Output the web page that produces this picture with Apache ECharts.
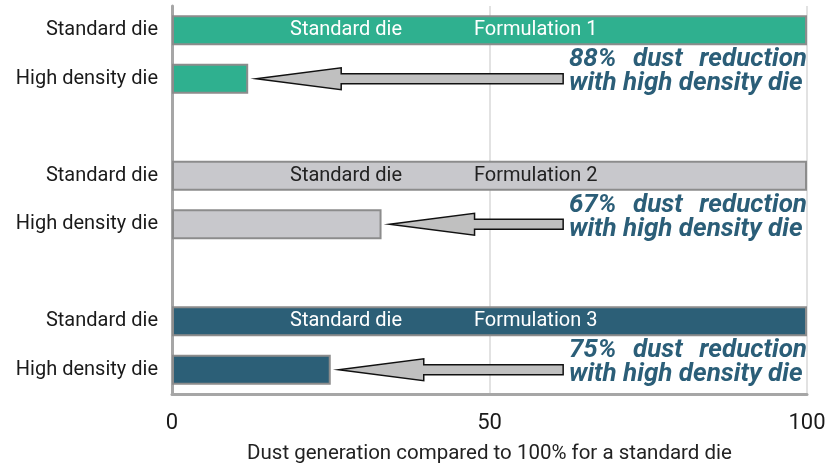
<!DOCTYPE html>
<html><head><meta charset="utf-8">
<script src="https://cdn.jsdelivr.net/npm/echarts@6/dist/echarts.min.js"></script>
<style>html,body{margin:0;padding:0;background:#fff}#c{width:840px;height:466px}</style>
</head><body><div id="c"></div>
<script>
// ---- data ----
const categories = ['Standard die','High density die','','Standard die','High density die','','Standard die','High density die'];
const formulations = ['Formulation 1','Formulation 2','Formulation 3'];
const standardLabel = 'Standard die';
const standardValues = [100, 100, 100];
const highDensityValues = [12, 33, 25];
const reductionLabels = ['88%', '67%', '75%'];
const xTicks = [0, 50, 100];
const axisTitle = 'Dust generation compared to 100% for a standard die';

// ---- styles ----
const fills = ['#2fb08f', '#c8c8cc', '#2c5f77'];
const labelColors = ['#ffffff', '#222222', '#ffffff'];
const FONT = 'Roboto';
const annColor = '#2b5e78';
const annSize = 26;

const barData = [];
for (let i = 0; i < formulations.length; i++) {
  barData.push({
    value: standardValues[i],
    itemStyle: { color: fills[i] },
    label: {
      show: true, position: 'insideLeft', offset: [113, 0],
      formatter: '{a|' + standardLabel + '}{b|' + formulations[i] + '}',
      rich: {
        a: { width: 184, fontSize: 20, fontFamily: FONT, color: labelColors[i] },
        b: { fontSize: 20, fontFamily: FONT, color: labelColors[i] }
      }
    }
  });
  barData.push({ value: highDensityValues[i], itemStyle: { color: fills[i] } });
  if (i < formulations.length - 1) barData.push('-');
}

const arrowData = highDensityValues.map((v, i) => [v, 3 * i + 1, i]);

const ctx = document.createElement('canvas').getContext('2d');
function measure(t) {
  ctx.font = 'italic bold ' + annSize + 'px ' + FONT;
  return ctx.measureText(t).width;
}

function renderArrow(params, api) {
  const v = api.value(0), row = api.value(1), k = api.value(2);
  const p = api.coord([v, row]);
  const xb = p[0], yc = p[1];
  const xEnd = api.coord([61.6, row])[0];
  const xTxt = api.coord([62.5, row])[0];
  const xR = api.coord([100, row])[0];
  const tip = xb + 8, hb = tip + 85;
  const hh = 11, sh = 5;
  const children = [{
    type: 'polygon',
    shape: { points: [[tip, yc], [hb, yc - hh], [hb, yc - sh], [xEnd, yc - sh], [xEnd, yc + sh], [hb, yc + sh], [hb, yc + hh]] },
    style: { fill: '#c0c0c0', stroke: '#111', lineWidth: 1.5 }
  }];
  const words = [reductionLabels[k], 'dust', 'reduction'];
  const widths = words.map(measure);
  const gap = (xR - xTxt - widths.reduce((a, b) => a + b, 0)) / (words.length - 1);
  let x = xTxt;
  const y1 = yc - 19, y2 = yc + 5;
  const font = { fontStyle: 'italic', fontWeight: 'bold', fontSize: annSize, fontFamily: FONT };
  words.forEach((w, j) => {
    children.push({ type: 'text', style: Object.assign({ text: w, x: x, y: y1, fill: annColor, textAlign: 'left', textVerticalAlign: 'middle' }, font) });
    x += widths[j] + gap;
  });
  children.push({ type: 'text', style: Object.assign({ text: 'with high density die', x: xTxt, y: y2, fill: annColor, textAlign: 'left', textVerticalAlign: 'middle' }, font) });
  return { type: 'group', children: children };
}

const chart = echarts.init(document.getElementById('c'));
chart.setOption({
  animation: false,
  backgroundColor: '#ffffff',
  grid: { left: 172, right: 33, top: 6, bottom: 72, containLabel: false, outerBoundsMode: 'none' },
  xAxis: {
    type: 'value', min: xTicks[0], max: xTicks[xTicks.length - 1], interval: xTicks[1] - xTicks[0],
    axisLine: { show: true, lineStyle: { color: '#a6a6a6', width: 3 } },
    axisTick: { show: false },
    splitLine: { show: true, lineStyle: { color: '#d9d9d9', width: 1.5 } },
    axisLabel: { fontSize: 22, fontFamily: FONT, color: '#1a1a1a', margin: 18 },
    name: axisTitle, nameLocation: 'middle', nameGap: 49,
    nameTextStyle: { fontSize: 20.5, fontFamily: FONT, color: '#222' }
  },
  yAxis: {
    type: 'category', inverse: true, data: categories,
    axisLine: { show: true, lineStyle: { color: '#a6a6a6', width: 3 } },
    axisTick: { show: false },
    axisLabel: { fontSize: 20, fontFamily: FONT, color: '#1a1a1a', margin: 14 },
    splitLine: { show: false }
  },
  series: [
    {
      type: 'bar', data: barData, barWidth: 30,
      itemStyle: { borderColor: '#8c8c8c', borderWidth: 2 },
      z: 2
    },
    {
      type: 'custom', data: arrowData, renderItem: renderArrow, clip: false, z: 5,
      encode: { x: 0, y: 1 }
    }
  ]
});
</script></body></html>
